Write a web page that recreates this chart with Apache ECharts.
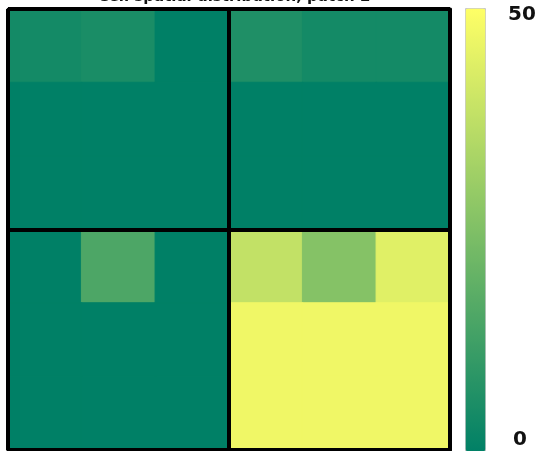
<!DOCTYPE html>
<html>
<head>
<meta charset="utf-8">
<script src="https://cdn.jsdelivr.net/npm/echarts@6/dist/echarts.min.js"></script>
<style>
  html, body { margin: 0; padding: 0; background: #ffffff; }
  #chart { width: 539px; height: 451px; }
</style>
</head>
<body>
<div id="chart"></div>
<script>
// 6x6 grid of cell counts, rows listed top to bottom (four 3x3 quadrants)
const colLabels = ['0', '1', '2', '3', '4', '5'];
const rowLabels = ['0', '1', '2', '3', '4', '5'];
const row0 = [4, 5, 0, 6, 4, 4];
const row1 = [0, 0, 0, 0, 0, 0];
const row2 = [0, 0, 0, 0, 0, 0];
const row3 = [0, 15, 0, 38, 26, 44];
const row4 = [0, 0, 0, 47, 47, 47];
const row5 = [0, 0, 0, 47, 47, 47];
const rows = [row0, row1, row2, row3, row4, row5];
const colorMin = 0;
const colorMax = 50;
const colorTickLabels = ['50', '0'];
const titleText = 'Cell spatial distribution, patch 2';

// "summer" colormap: linear from (0, 0.5, 0.4) to (1, 1, 0.4)
const lowRGB = [0, 128, 102];
const highRGB = [255, 255, 102];
function summer(v) {
  const t = Math.max(0, Math.min(1, (v - colorMin) / (colorMax - colorMin)));
  const c = lowRGB.map((a, i) => Math.round(a + (highRGB[i] - a) * t));
  return 'rgb(' + c.join(',') + ')';
}

const cells = [];
rows.forEach((r, ri) => r.forEach((v, ci) => {
  const col = summer(v);
  // border in the fill colour closes the hairline seams between cells
  cells.push({ value: [ci, ri, v], itemStyle: { color: col, borderColor: col, borderWidth: 1 } });
}));

const hiddenCat = {
  axisTick: { show: false }, axisLabel: { show: false }, splitLine: { show: false }
};

const chart = echarts.init(document.getElementById('chart'), null, { renderer: 'canvas' });
chart.setOption({
  animation: false,
  backgroundColor: '#ffffff',
  title: {
    text: titleText,
    left: 229,
    top: -15,
    textAlign: 'center',
    textStyle: { fontFamily: 'DejaVu Sans', fontWeight: 'bold', fontSize: 15, color: '#111' }
  },
  grid: { left: 8, top: 9, width: 442, height: 441 },
  xAxis: [
    Object.assign({ type: 'category', data: colLabels, position: 'bottom', z: 10,
      axisLine: { show: true, lineStyle: { color: '#000', width: 3 } } }, hiddenCat),
    Object.assign({ type: 'category', data: colLabels, position: 'top', z: 10,
      axisLine: { show: true, lineStyle: { color: '#000', width: 3 } } }, hiddenCat),
    // overlay axis whose middle split line separates the quadrants
    { type: 'value', min: 0, max: 6, interval: 3, position: 'bottom', z: 10,
      axisLine: { show: false }, axisTick: { show: false }, axisLabel: { show: false },
      splitLine: { show: true, lineStyle: { color: '#000', width: 4 } } }
  ],
  yAxis: [
    Object.assign({ type: 'category', data: rowLabels, inverse: true, position: 'left', z: 10,
      axisLine: { show: true, lineStyle: { color: '#000', width: 3 } } }, hiddenCat),
    Object.assign({ type: 'category', data: rowLabels, inverse: true, position: 'right', z: 10,
      axisLine: { show: true, lineStyle: { color: '#000', width: 3 } } }, hiddenCat),
    { type: 'value', min: 0, max: 6, interval: 3, position: 'left', z: 10,
      axisLine: { show: false }, axisTick: { show: false }, axisLabel: { show: false },
      splitLine: { show: true, lineStyle: { color: '#000', width: 4 } } }
  ],
  visualMap: {
    type: 'continuous',
    min: colorMin, max: colorMax,
    calculable: false,
    orient: 'vertical',
    left: 465, top: 8,
    itemWidth: 20, itemHeight: 443,
    padding: 0,
    text: null,
    showLabel: false,
    borderColor: '#c8c8c8', borderWidth: 1,
    inRange: { color: [summer(colorMin), summer(colorMax)] },
    seriesIndex: []
  },
  graphic: [
    { type: 'text', left: 508, top: 5, style: { text: colorTickLabels[0], font: 'bold 20px "DejaVu Sans"', fill: '#111' } },
    { type: 'text', left: 513, top: 430, style: { text: colorTickLabels[1], font: 'bold 20px "DejaVu Sans"', fill: '#111' } }
  ],
  series: [{
    type: 'heatmap',
    xAxisIndex: 0, yAxisIndex: 0,
    data: cells,
    emphasis: { disabled: true }
  }]
});
</script>
</body>
</html>
